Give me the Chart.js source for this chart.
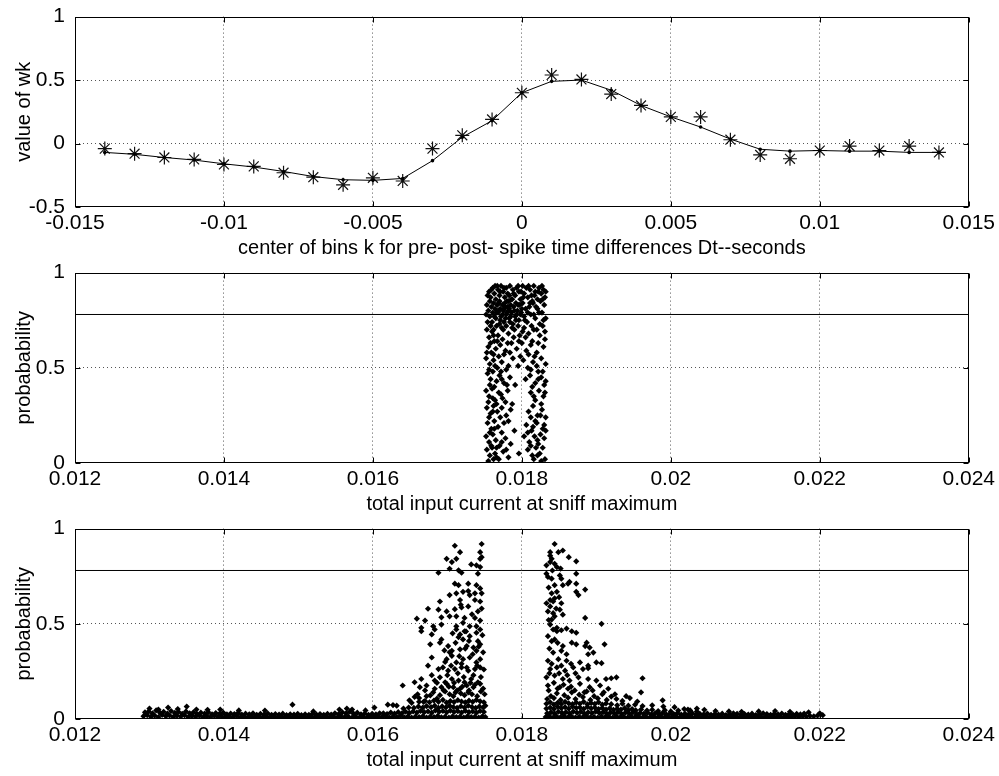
<!DOCTYPE html>
<html>
<head>
<meta charset="utf-8">
<script src="https://cdn.jsdelivr.net/npm/chart.js@4.4.1/dist/chart.umd.min.js"></script>
<style>
  body { margin: 0; background: #fff; }
  .panel { position: absolute; left: 0; width: 999px; height: 268px; }
</style>
</head>
<body>
<div class="panel" style="top:-6px"><canvas id="wkChart" width="999" height="268"></canvas></div>
<div class="panel" style="top:250px"><canvas id="probChartA" width="999" height="268"></canvas></div>
<div class="panel" style="top:506px"><canvas id="probChartB" width="999" height="268"></canvas></div>
<script>
// ---- weights wk per spike-time bin ----
const binCenters = [-0.014, -0.013, -0.012, -0.011, -0.01, -0.009, -0.008, -0.007, -0.006, -0.005,
  -0.004, -0.003, -0.002, -0.001, 0, 0.001, 0.002, 0.003, 0.004, 0.005,
  0.006, 0.007, 0.008, 0.009, 0.01, 0.011, 0.012, 0.013, 0.014];
const wkMeasured = [-0.04, -0.08, -0.11, -0.125, -0.165, -0.18, -0.23, -0.265, -0.325, -0.27,
  -0.295, -0.04, 0.065, 0.19, 0.40, 0.54, 0.505, 0.39, 0.30, 0.21,
  0.21, 0.03, -0.09, -0.12, -0.055, -0.02, -0.055, -0.02, -0.07];
const wkFit = [-0.07, -0.085, -0.11, -0.13, -0.16, -0.185, -0.22, -0.26, -0.285, -0.29,
  -0.275, -0.135, 0.05, 0.18, 0.40, 0.49, 0.50, 0.42, 0.30, 0.21,
  0.13, 0.035, -0.045, -0.06, -0.055, -0.06, -0.06, -0.07, -0.07];

const dtTicks = [-0.015, -0.01, -0.005, 0, 0.005, 0.01, 0.015];
const wkTicks = [-0.5, 0, 0.5, 1];
const currentTicks = [0.012, 0.014, 0.016, 0.018, 0.02, 0.022, 0.024];
const probTicks = [0, 0.5, 1];
const cutoffLevel = 0.78;

// ---- probability vs. input current, first run ----
const runAPts = [
  [0.01756,0.90],[0.01758,0.87],[0.01761,0.92],[0.01763,0.89],[0.01765,0.86],[0.01768,0.91],[0.01770,0.88],
  [0.01772,0.93],[0.01775,0.90],[0.01777,0.87],[0.01779,0.92],[0.01781,0.89],[0.01784,0.93],[0.01786,0.86],
  [0.01788,0.91],[0.01791,0.88],[0.01793,0.92],[0.01796,0.90],[0.01798,0.86],[0.01801,0.93],[0.01803,0.89],
  [0.01806,0.92],[0.01808,0.87],[0.01811,0.91],[0.01813,0.88],[0.01816,0.93],[0.01818,0.90],[0.01821,0.86],
  [0.01823,0.92],[0.01826,0.89],[0.01829,0.91],[0.01831,0.87],[0.01757,0.85],[0.01767,0.93],[0.01782,0.85],
  [0.01799,0.90],[0.01814,0.85],[0.01827,0.93],
  [0.01754,0.88],[0.01759,0.91],[0.01764,0.93],[0.01771,0.90],[0.01776,0.92],[0.01783,0.88],[0.01789,0.89],
  [0.01795,0.93],[0.01802,0.87],[0.01809,0.93],[0.01817,0.88],[0.01822,0.90],[0.01828,0.86],[0.01832,0.90],
  [0.01811,0.84],[0.01819,0.82],[0.01825,0.85],[0.01808,0.79],[0.01816,0.78],[0.01823,0.79],[0.01829,0.75],
  [0.01804,0.75],[0.01752,0.78],[0.01754,0.74],[0.01758,0.72],[0.01762,0.70],[0.01770,0.73],[0.01779,0.72],
  [0.01787,0.71],[0.01795,0.72],[0.01801,0.69],[0.01813,0.72],[0.01820,0.70],[0.01828,0.72],
  [0.01753,0.83],[0.01755,0.80],[0.01757,0.77],[0.01759,0.82],[0.01761,0.79],[0.01762,0.84],[0.01764,0.81],
  [0.01765,0.76],[0.01767,0.83],[0.01768,0.79],[0.01770,0.85],[0.01771,0.81],[0.01772,0.77],[0.01774,0.83],
  [0.01775,0.80],[0.01776,0.74],[0.01778,0.82],[0.01779,0.78],[0.01780,0.85],[0.01782,0.80],[0.01783,0.76],
  [0.01785,0.83],[0.01786,0.79],[0.01788,0.73],[0.01789,0.82],[0.01791,0.77],[0.01792,0.84],[0.01794,0.80],
  [0.01796,0.75],[0.01797,0.83],[0.01799,0.79],[0.01801,0.84],[0.01803,0.77],[0.01805,0.81],[0.01807,0.74],
  [0.01810,0.82],[0.01812,0.78],[0.01815,0.84],[0.01818,0.76],[0.01821,0.81],[0.01824,0.73],[0.01827,0.79],
  [0.01830,0.83],[0.01832,0.76],[0.01766,0.72],[0.01773,0.71],[0.01784,0.74],[0.01760,0.74],[0.01777,0.84],
  [0.01787,0.86],[0.01769,0.80],[0.01781,0.82],[0.01793,0.78],[0.01800,0.81],[0.01774,0.78],[0.01763,0.77],
  [0.01766,0.79],[0.01771,0.75],[0.01778,0.76],[0.01783,0.81],[0.01790,0.80],[0.01795,0.83],[0.01769,0.84],
  [0.01776,0.81],[0.01780,0.79],[0.01785,0.77],[0.01792,0.75],[0.01798,0.78],
  [0.01753,0.70],[0.01756,0.66],[0.01760,0.69],[0.01763,0.64],[0.01768,0.67],[0.01775,0.70],[0.01782,0.68],
  [0.01790,0.70],[0.01797,0.67],[0.01803,0.71],[0.01809,0.68],[0.01816,0.70],[0.01824,0.67],[0.01831,0.69],
  [0.01758,0.63],[0.01762,0.67],[0.01767,0.64],[0.01774,0.65],[0.01781,0.63],[0.01789,0.66],[0.01796,0.64],
  [0.01805,0.66],[0.01814,0.64],[0.01822,0.63],[0.01831,0.65],
  [0.01755,0.61],[0.01759,0.58],[0.01765,0.60],[0.01771,0.62],[0.01778,0.59],[0.01786,0.63],[0.01793,0.60],
  [0.01800,0.63],[0.01806,0.59],[0.01812,0.62],[0.01820,0.58],[0.01829,0.61],
  [0.01753,0.58],[0.01762,0.57],[0.01769,0.56],[0.01776,0.57],[0.01784,0.58],[0.01798,0.56],[0.01809,0.57],
  [0.01817,0.56],[0.01826,0.55],
  [0.01752,0.55],[0.01757,0.52],[0.01762,0.54],[0.01767,0.50],[0.01773,0.53],[0.01779,0.49],[0.01788,0.55],
  [0.01795,0.51],[0.01802,0.54],[0.01808,0.50],[0.01815,0.53],[0.01822,0.48],[0.01832,0.52],
  [0.01756,0.49],[0.01764,0.51],[0.01772,0.48],[0.01782,0.51],[0.01812,0.49],[0.01820,0.51],[0.01828,0.48],
  [0.01754,0.47],[0.01758,0.44],[0.01761,0.48],[0.01766,0.43],[0.01770,0.46],[0.01776,0.42],[0.01784,0.45],
  [0.01791,0.41],[0.01805,0.44],[0.01811,0.46],[0.01818,0.42],[0.01826,0.45],[0.01830,0.41],
  [0.01757,0.41],[0.01763,0.40],[0.01773,0.44],[0.01780,0.41],[0.01814,0.40],[0.01822,0.44],[0.01832,0.43],
  [0.01752,0.38],[0.01756,0.35],[0.01760,0.39],[0.01764,0.33],[0.01769,0.37],[0.01774,0.34],[0.01781,0.38],
  [0.01787,0.31],[0.01812,0.37],[0.01818,0.33],[0.01823,0.38],[0.01829,0.35],
  [0.01755,0.32],[0.01761,0.34],[0.01766,0.31],[0.01772,0.36],[0.01778,0.32],[0.01816,0.35],[0.01826,0.31],
  [0.01831,0.37],
  [0.01753,0.29],[0.01758,0.26],[0.01762,0.30],[0.01767,0.27],[0.01773,0.29],[0.01779,0.25],[0.01785,0.28],
  [0.01809,0.27],[0.01815,0.30],[0.01821,0.25],[0.01827,0.28],[0.01832,0.24],
  [0.01756,0.24],[0.01761,0.27],[0.01771,0.24],[0.01782,0.22],[0.01812,0.24],[0.01818,0.22],[0.01825,0.25],
  [0.01830,0.20],
  [0.01754,0.21],[0.01759,0.18],[0.01763,0.22],[0.01768,0.19],[0.01776,0.21],[0.01790,0.17],[0.01806,0.20],
  [0.01813,0.17],[0.01820,0.21],[0.01828,0.18],
  [0.01757,0.16],[0.01763,0.18],[0.01773,0.16],[0.01808,0.16],[0.01815,0.19],[0.01825,0.15],[0.01832,0.17],
  [0.01752,0.14],[0.01756,0.11],[0.01761,0.15],[0.01765,0.12],[0.01770,0.09],[0.01778,0.13],[0.01785,0.10],
  [0.01803,0.14],[0.01810,0.11],[0.01817,0.14],[0.01822,0.10],[0.01830,0.13],
  [0.01759,0.09],[0.01766,0.08],[0.01773,0.11],[0.01812,0.09],[0.01821,0.12],[0.01828,0.08],
  [0.01753,0.07],[0.01757,0.04],[0.01760,0.08],[0.01764,0.05],[0.01769,0.02],[0.01775,0.06],[0.01782,0.03],
  [0.01796,0.05],[0.01808,0.07],[0.01814,0.04],[0.01819,0.08],[0.01824,0.05],[0.01831,0.02],[0.01755,0.01],
  [0.01762,0.02],[0.01826,0.01],[0.01766,0.03],[0.01779,0.07],[0.01816,0.02],[0.01821,0.04]
];

// ---- probability vs. input current, second run ----
// flat low tail on the left
const runBTailPts = [
  [0.01292,0.015],[0.01297,0.02],[0.01302,0.012],[0.01307,0.018],[0.01312,0.01],[0.01317,0.022],[0.01322,0.014],
  [0.01327,0.019],[0.01332,0.011],[0.01337,0.017],[0.01342,0.013],[0.01347,0.02],[0.01352,0.01],[0.01357,0.016],
  [0.01362,0.012],[0.01367,0.018],[0.01372,0.009],[0.01377,0.015],[0.01382,0.011],[0.01387,0.017],[0.01392,0.01],
  [0.01397,0.014],[0.01402,0.008],[0.01407,0.013],[0.01412,0.01],[0.01417,0.016],[0.01422,0.009],[0.01427,0.012],
  [0.01432,0.008],[0.01437,0.014],[0.01442,0.01],[0.01447,0.013],[0.01452,0.007],[0.01457,0.012],[0.01462,0.009],
  [0.01467,0.014],[0.01472,0.008],[0.01477,0.011],[0.01482,0.009],[0.01487,0.013],[0.01492,0.008],[0.01497,0.012],
  [0.01502,0.009],[0.01507,0.011],[0.01512,0.007],[0.01517,0.012],[0.01522,0.009],[0.01527,0.013],[0.01532,0.008],
  [0.01537,0.011],[0.01542,0.009],[0.01547,0.012],[0.01552,0.008],[0.01557,0.014],[0.01562,0.01],[0.01567,0.013],
  [0.01572,0.008],[0.01577,0.012],[0.01582,0.009],[0.01587,0.011],[0.01592,0.007],[0.01597,0.012],[0.01602,0.009],
  [0.01607,0.013],
  [0.01294,0.035],[0.01299,0.04],[0.01304,0.03],[0.01309,0.045],[0.01314,0.033],[0.01319,0.038],[0.01324,0.028],
  [0.01329,0.042],[0.01334,0.032],[0.01339,0.037],[0.01344,0.027],[0.01349,0.04],[0.01354,0.03],[0.01359,0.035],
  [0.01364,0.026],[0.01369,0.033],[0.01374,0.029],[0.01379,0.036],[0.01384,0.025],[0.01389,0.031],[0.01394,0.027],
  [0.01399,0.034],[0.01404,0.024],[0.01409,0.029],[0.01414,0.026],[0.01419,0.032],[0.01424,0.023],[0.01429,0.028],
  [0.01434,0.025],[0.01439,0.03],[0.01444,0.022],[0.01449,0.027],[0.01454,0.024],[0.01459,0.029],[0.01464,0.022],
  [0.01469,0.026],[0.01474,0.023],[0.01479,0.028],[0.01484,0.021],[0.01489,0.025],[0.01494,0.023],[0.01499,0.027],
  [0.01504,0.021],[0.01509,0.025],[0.01514,0.022],[0.01519,0.028],[0.01524,0.024],[0.01529,0.026],[0.01534,0.022],
  [0.01539,0.027],[0.01544,0.023],[0.01549,0.03],[0.01554,0.026],[0.01559,0.035],[0.01564,0.03],[0.01569,0.038],
  [0.01574,0.028],[0.01579,0.033],[0.01584,0.025],[0.01589,0.029],[0.01594,0.022],[0.01599,0.027],[0.01604,0.024],
  [0.01609,0.03],
  [0.01300,0.055],[0.01312,0.05],[0.01325,0.06],[0.01338,0.052],[0.01350,0.065],[0.01363,0.05],[0.01378,0.048],
  [0.01395,0.05],[0.01420,0.045],[0.01455,0.044],[0.01492,0.075],[0.01520,0.04],[0.01555,0.05],[0.01565,0.055],
  [0.01572,0.05],[0.01590,0.045],[0.01602,0.06],[0.01620,0.075],[0.01632,0.07]
];

// rising cluster just below 0.0175
const runBLeftPts = [
  [0.01612,0.01],[0.01617,0.015],[0.01622,0.008],[0.01627,0.013],[0.01632,0.01],[0.01637,0.016],[0.01642,0.009],
  [0.01647,0.014],[0.01652,0.007],[0.01657,0.012],[0.01662,0.01],[0.01667,0.015],[0.01672,0.008],[0.01677,0.013],
  [0.01682,0.01],[0.01687,0.016],[0.01692,0.009],[0.01697,0.012],[0.01702,0.007],[0.01707,0.014],[0.01712,0.01],
  [0.01717,0.013],[0.01722,0.008],[0.01727,0.015],[0.01732,0.01],[0.01737,0.012],[0.01742,0.008],[0.01747,0.014],
  [0.01751,0.01],
  [0.01614,0.03],[0.01619,0.026],[0.01624,0.034],[0.01629,0.028],[0.01634,0.036],[0.01639,0.03],[0.01644,0.038],
  [0.01649,0.032],[0.01654,0.04],[0.01659,0.034],[0.01664,0.042],[0.01669,0.036],[0.01674,0.04],[0.01679,0.033],
  [0.01684,0.045],[0.01689,0.038],[0.01694,0.042],[0.01699,0.035],[0.01704,0.044],[0.01709,0.037],[0.01714,0.041],
  [0.01719,0.034],[0.01724,0.043],[0.01729,0.036],[0.01734,0.04],[0.01739,0.033],[0.01744,0.042],[0.01749,0.037],
  [0.01641,0.055],[0.01648,0.06],[0.01655,0.058],[0.01661,0.065],[0.01667,0.06],[0.01672,0.068],[0.01678,0.062],
  [0.01683,0.07],[0.01688,0.058],[0.01693,0.066],[0.01698,0.061],[0.01703,0.069],[0.01708,0.063],[0.01713,0.058],
  [0.01718,0.067],[0.01723,0.06],[0.01728,0.07],[0.01733,0.063],[0.01738,0.058],[0.01743,0.066],[0.01748,0.061],
  [0.01751,0.07],
  [0.01652,0.085],[0.01662,0.09],[0.01670,0.095],[0.01676,0.088],[0.01682,0.097],[0.01688,0.09],[0.01694,0.1],
  [0.01699,0.086],[0.01704,0.094],[0.01709,0.089],[0.01714,0.099],[0.01719,0.092],[0.01724,0.087],[0.01729,0.096],
  [0.01734,0.09],[0.01739,0.1],[0.01744,0.093],[0.01749,0.088],
  [0.01660,0.13],[0.01672,0.12],[0.01681,0.14],[0.01690,0.125],[0.01697,0.145],[0.01703,0.13],[0.01708,0.12],
  [0.01713,0.15],[0.01718,0.135],[0.01723,0.125],[0.01728,0.14],[0.01733,0.13],[0.01740,0.12],[0.01745,0.145],
  [0.01750,0.13],
  [0.01627,0.073],[0.01649,0.098],[0.01656,0.116],[0.01668,0.09],[0.01677,0.124],[0.01686,0.107],
  [0.01695,0.15],[0.01702,0.17],[0.01711,0.14],[0.01720,0.17],[0.01729,0.15],[0.01737,0.18],[0.01748,0.16],
  [0.01670,0.15],[0.01662,0.11],[0.01686,0.19],
  [0.01640,0.176],[0.01656,0.193],[0.01663,0.167],[0.01672,0.176],[0.01683,0.159],[0.01692,0.167],[0.01699,0.185],
  [0.01708,0.167],[0.01717,0.159],[0.01726,0.176],[0.01735,0.167],[0.01744,0.185],
  [0.01665,0.21],[0.01683,0.202],[0.01690,0.219],[0.01697,0.193],[0.01706,0.21],[0.01715,0.202],[0.01723,0.193],
  [0.01732,0.21],[0.01741,0.193],
  [0.01700,0.23],[0.01705,0.28],[0.01709,0.19],[0.01714,0.24],[0.01719,0.29],[0.01722,0.22],[0.01726,0.27],
  [0.01731,0.19],[0.01735,0.23],[0.01740,0.28],[0.01745,0.22],[0.01749,0.26],[0.01679,0.23],
  [0.01674,0.28],[0.01688,0.262],[0.01694,0.271],[0.01701,0.254],[0.01710,0.262],[0.01719,0.271],[0.01728,0.254],
  [0.01737,0.262],[0.01744,0.271],[0.01697,0.30],
  [0.01679,0.323],[0.01699,0.314],[0.01706,0.332],[0.01712,0.297],[0.01721,0.314],[0.01730,0.323],[0.01739,0.297],
  [0.01744,0.314],
  [0.01703,0.35],[0.01711,0.40],[0.01716,0.33],[0.01724,0.37],[0.01729,0.41],[0.01734,0.34],[0.01742,0.38],
  [0.01748,0.35],[0.01696,0.36],
  [0.01677,0.392],[0.01701,0.383],[0.01706,0.358],[0.01717,0.366],[0.01726,0.383],[0.01735,0.375],[0.01744,0.392],
  [0.01739,0.358],
  [0.01665,0.461],[0.01679,0.444],[0.01683,0.47],[0.01692,0.418],[0.01690,0.401],[0.01712,0.47],[0.01717,0.444],
  [0.01721,0.418],[0.01723,0.461],[0.01730,0.435],[0.01739,0.453],[0.01744,0.47],[0.01741,0.409],
  [0.01715,0.43],[0.01725,0.46],[0.01747,0.44],[0.01707,0.45],
  [0.01665,0.479],[0.01681,0.487],[0.01692,0.496],[0.01712,0.487],[0.01721,0.505],[0.01730,0.487],[0.01739,0.487],
  [0.01659,0.527],[0.01670,0.517],[0.01692,0.534],[0.01703,0.539],[0.01712,0.539],[0.01723,0.531],[0.01737,0.531],
  [0.01744,0.517],[0.01733,0.55],
  [0.01674,0.579],[0.01688,0.574],[0.01699,0.565],[0.01710,0.577],[0.01719,0.586],[0.01728,0.591],[0.01741,0.565],
  [0.01746,0.58],[0.01718,0.60],
  [0.01690,0.617],[0.01717,0.625],[0.01737,0.625],[0.01744,0.617],
  [0.01703,0.651],[0.01712,0.66],[0.01721,0.668],[0.01728,0.672],[0.01730,0.651],[0.01737,0.66],[0.01746,0.66],
  [0.01710,0.711],[0.01715,0.703],[0.01728,0.711],[0.01739,0.703],[0.01744,0.686],
  [0.01688,0.768],[0.01703,0.789],[0.01715,0.781],[0.01719,0.768],[0.01744,0.798],[0.01741,0.763],
  [0.01732,0.812],[0.01739,0.807],[0.01706,0.824],[0.01699,0.841],[0.01712,0.841],[0.01744,0.841],[0.01746,0.85],
  [0.01717,0.876],[0.01744,0.876],[0.01710,0.91],[0.01746,0.919]
];

// falling cluster just above 0.0183, with its long tail
const runBRightPts = [
  [0.01832,0.01],[0.01837,0.014],[0.01842,0.008],[0.01847,0.012],[0.01852,0.01],[0.01857,0.015],[0.01862,0.009],
  [0.01867,0.013],[0.01872,0.008],[0.01877,0.012],[0.01882,0.01],[0.01887,0.014],[0.01892,0.009],[0.01897,0.011],
  [0.01902,0.008],[0.01907,0.013],[0.01912,0.01],[0.01917,0.012],[0.01922,0.008],[0.01927,0.014],[0.01932,0.009],
  [0.01937,0.011],[0.01942,0.008],[0.01947,0.013],[0.01952,0.01],[0.01957,0.012],[0.01962,0.008],[0.01967,0.011],
  [0.01972,0.009],[0.01977,0.013],[0.01982,0.008],[0.01987,0.012],[0.01992,0.01],[0.01997,0.011],[0.02002,0.008],
  [0.02007,0.012],[0.02012,0.009],[0.02017,0.013],[0.02022,0.01],[0.02027,0.012],[0.02032,0.008],[0.02037,0.011],
  [0.02042,0.009],[0.02047,0.013],[0.02052,0.01],[0.02057,0.012],[0.02062,0.008],[0.02067,0.011],[0.02072,0.009],
  [0.02077,0.012],[0.02082,0.01],[0.02087,0.013],[0.02092,0.008],[0.02097,0.011],[0.02102,0.009],[0.02107,0.012],
  [0.02112,0.01],[0.02117,0.013],[0.02122,0.009],[0.02127,0.011],[0.02132,0.008],[0.02137,0.012],[0.02142,0.01],
  [0.02147,0.013],[0.02152,0.009],[0.02157,0.011],[0.02162,0.01],[0.02167,0.014],[0.02172,0.012],[0.02177,0.015],
  [0.02182,0.013],[0.02187,0.016],[0.02192,0.014],[0.02197,0.018],[0.02204,0.02],
  [0.01834,0.03],[0.01839,0.035],[0.01844,0.028],[0.01849,0.038],[0.01854,0.032],[0.01859,0.036],[0.01864,0.03],
  [0.01869,0.039],[0.01874,0.033],[0.01879,0.037],[0.01884,0.029],[0.01889,0.035],[0.01894,0.031],[0.01899,0.038],
  [0.01904,0.032],[0.01909,0.036],[0.01914,0.028],[0.01919,0.034],[0.01924,0.03],[0.01929,0.036],[0.01934,0.027],
  [0.01939,0.033],[0.01944,0.029],[0.01949,0.035],[0.01954,0.026],[0.01959,0.032],[0.01964,0.028],[0.01969,0.033],
  [0.01974,0.025],[0.01979,0.03],[0.01984,0.027],[0.01989,0.032],[0.01994,0.024],[0.01999,0.029],[0.02004,0.026],
  [0.02009,0.031],[0.02014,0.023],[0.02019,0.028],[0.02024,0.025],[0.02029,0.03],[0.02034,0.022],[0.02039,0.027],
  [0.02044,0.024],[0.02049,0.029],[0.02054,0.022],[0.02059,0.026],[0.02064,0.023],[0.02069,0.028],[0.02074,0.021],
  [0.02079,0.025],[0.02084,0.03],[0.02089,0.027],[0.02094,0.022],[0.02099,0.026],[0.02104,0.023],[0.02109,0.028],
  [0.02114,0.021],[0.02119,0.025],[0.02124,0.03],[0.02129,0.026],[0.02134,0.022],[0.02139,0.027],[0.02144,0.024],
  [0.02149,0.029],[0.02154,0.022],[0.02159,0.026],[0.02164,0.023],[0.02169,0.027],[0.02174,0.024],[0.02179,0.029],
  [0.01833,0.055],[0.01838,0.06],[0.01843,0.052],[0.01848,0.064],[0.01853,0.057],[0.01858,0.062],[0.01863,0.054],
  [0.01868,0.065],[0.01873,0.058],[0.01878,0.061],[0.01883,0.053],[0.01888,0.063],[0.01893,0.056],[0.01898,0.06],
  [0.01903,0.052],[0.01908,0.058],[0.01913,0.05],[0.01918,0.056],[0.01923,0.048],[0.01928,0.054],[0.01933,0.05],
  [0.01938,0.057],[0.01943,0.047],[0.01948,0.052],[0.01953,0.045],[0.01960,0.05],[0.01968,0.044],[0.01975,0.048],
  [0.01983,0.042],[0.01992,0.046],[0.02000,0.04],[0.02010,0.044],[0.02018,0.052],[0.02026,0.045],[0.02035,0.04],
  [0.02045,0.048],[0.02060,0.042],[0.02078,0.04],[0.02095,0.038],[0.02118,0.04],[0.02140,0.042],[0.02160,0.038],
  [0.02185,0.035],[0.02200,0.03],
  [0.01833,0.08],[0.01838,0.088],[0.01843,0.076],[0.01848,0.085],[0.01853,0.079],[0.01858,0.09],[0.01863,0.082],
  [0.01868,0.078],[0.01873,0.087],[0.01878,0.08],[0.01883,0.09],[0.01888,0.077],[0.01893,0.084],[0.01898,0.079],
  [0.01903,0.088],[0.01908,0.075],[0.01913,0.082],[0.01920,0.078],[0.01928,0.072],[0.01935,0.08],[0.01943,0.07],
  [0.01952,0.075],[0.01962,0.068],[0.01975,0.072],[0.01990,0.065],[0.02005,0.062],
  [0.01834,0.105],[0.01839,0.12],[0.01843,0.11],[0.01847,0.135],[0.01852,0.1],[0.01857,0.125],[0.01862,0.112],
  [0.01867,0.14],[0.01872,0.105],[0.01877,0.128],[0.01882,0.115],[0.01887,0.145],[0.01892,0.1],[0.01897,0.12],
  [0.01902,0.108],[0.01908,0.13],[0.01914,0.1],[0.01920,0.118],[0.01927,0.105],[0.01935,0.095],[0.01945,0.11],
  [0.01955,0.092],[0.01989,0.098],[0.02023,0.05],[0.02035,0.055],
  [0.01836,0.15],[0.01843,0.19],[0.01848,0.16],[0.01856,0.18],[0.01866,0.17],[0.01871,0.15],[0.01884,0.14],
  [0.01895,0.15],[0.01910,0.14],[0.01925,0.13],[0.01940,0.12],
  [0.01835,0.176],[0.01851,0.167],[0.01862,0.159],[0.01878,0.185],[0.01891,0.167],[0.01905,0.176],[0.01916,0.159],
  [0.01960,0.14],
  [0.01833,0.219],[0.01844,0.228],[0.01855,0.21],[0.01864,0.202],[0.01876,0.219],[0.01889,0.21],[0.01900,0.202],
  [0.01913,0.21],[0.01920,0.214],[0.01927,0.219],[0.01962,0.214],
  [0.01837,0.24],[0.01850,0.24],[0.01861,0.23],[0.01872,0.24],
  [0.01838,0.262],[0.01847,0.271],[0.01858,0.254],[0.01869,0.271],[0.01882,0.262],[0.01889,0.267],
  [0.01840,0.29],[0.01853,0.28],[0.01866,0.29],
  [0.01835,0.306],[0.01849,0.314],[0.01860,0.306],[0.01878,0.297],[0.01889,0.28],[0.01900,0.297],[0.01907,0.293],
  [0.01842,0.349],[0.01853,0.358],[0.01889,0.34],[0.01896,0.349],[0.01837,0.37],[0.01860,0.34],
  [0.01867,0.401],[0.01873,0.392],[0.01855,0.383],[0.01887,0.401],[0.01885,0.383],[0.01911,0.392],[0.01891,0.375],
  [0.01835,0.435],[0.01840,0.409],[0.01844,0.418],[0.01848,0.40],
  [0.01842,0.47],[0.01847,0.461],[0.01853,0.466],[0.01860,0.475],[0.01867,0.461],[0.01873,0.453],
  [0.01838,0.496],[0.01847,0.479],[0.01885,0.531],[0.01907,0.50],[0.01836,0.52],
  [0.01833,0.608],[0.01838,0.591],[0.01835,0.565],[0.01842,0.556],[0.01851,0.574],[0.01853,0.608],[0.01855,0.548],
  [0.01844,0.539],[0.01840,0.522],[0.01846,0.58],
  [0.01840,0.66],[0.01847,0.668],[0.01844,0.634],[0.01842,0.617],[0.01838,0.625],[0.01850,0.64],
  [0.01885,0.68],[0.01873,0.668],[0.01876,0.651],[0.01836,0.69],
  [0.01833,0.763],[0.01835,0.746],[0.01840,0.737],[0.01851,0.754],[0.01853,0.737],[0.01844,0.703],[0.01855,0.703],
  [0.01864,0.72],[0.01862,0.711],[0.01873,0.711],[0.01841,0.78],[0.01852,0.79],
  [0.01844,0.919],[0.01849,0.876],[0.01855,0.885],[0.01863,0.85],[0.01838,0.876],[0.01838,0.858],[0.01840,0.841],
  [0.01838,0.824],[0.01833,0.807],[0.01844,0.815],[0.01847,0.798],[0.01873,0.828],[0.01873,0.763]
];

Chart.defaults.font.family = "'Liberation Sans', Arial, sans-serif";
Chart.defaults.font.size = 20;
Chart.defaults.color = '#000';

const GRID = '#555';
const toXY = pts => pts.map(([x, y]) => ({ x, y }));

function axis(min, max, tickValues, title, horizontal) {
  const last = tickValues.length - 1;
  return {
    type: 'linear',
    min: min,
    max: max,
    afterBuildTicks: s => { s.ticks = tickValues.map(v => ({ value: v })); },
    afterFit: s => {
      if (horizontal) s.height = 55;
      else s.width = 75;
    },
    ticks: {
      autoSkip: false,
      maxRotation: 0,
      font: { size: 21 },
      padding: horizontal ? 4 : 10,
      callback: v => String(v)
    },
    grid: {
      drawTicks: false,
      lineWidth: 1,
      color: c => (c.index === 0 || c.index === last) ? 'rgba(0,0,0,0)' : GRID
    },
    border: { display: false, dash: [1, 3] },
    title: {
      display: true,
      text: title,
      padding: horizontal ? { top: 0, bottom: 2 } : { top: 12, bottom: 0 }
    }
  };
}

// box around the axes with small inward tick marks, like the classic plot style
const boxFrame = {
  id: 'boxFrame',
  afterDraw(chart) {
    const { ctx, chartArea: a, scales } = chart;
    const L = Math.round(a.left) + 0.5, R = Math.round(a.right) - 0.5;
    const T = Math.round(a.top) + 0.5, B = Math.round(a.bottom) - 0.5;
    ctx.save();
    ctx.strokeStyle = '#000';
    ctx.lineWidth = 1;
    ctx.strokeRect(L, T, R - L, B - T);
    ctx.beginPath();
    scales.x.ticks.forEach(t => {
      const px = Math.round(scales.x.getPixelForValue(t.value)) + 0.5;
      ctx.moveTo(px, B); ctx.lineTo(px, B - 5);
      ctx.moveTo(px, T); ctx.lineTo(px, T + 5);
    });
    scales.y.ticks.forEach(t => {
      const py = Math.round(scales.y.getPixelForValue(t.value)) + 0.5;
      ctx.moveTo(L, py); ctx.lineTo(L + 5, py);
      ctx.moveTo(R, py); ctx.lineTo(R - 5, py);
    });
    ctx.stroke();
    ctx.restore();
  }
};

const baseOptions = (xAxis, yAxis) => ({
  responsive: false,
  animation: false,
  devicePixelRatio: 1,
  layout: { padding: { top: 8, right: 30, left: 0, bottom: 0 } },
  plugins: { legend: { display: false }, tooltip: { enabled: false } },
  scales: { x: xAxis, y: yAxis }
});

const scatterSet = pts => ({
  data: toXY(pts),
  pointStyle: 'rectRot',
  pointRadius: 3.1,
  backgroundColor: '#000',
  borderWidth: 0,
  showLine: false
});

const cutoffSet = () => ({
  data: [{ x: currentTicks[0], y: cutoffLevel }, { x: currentTicks[currentTicks.length - 1], y: cutoffLevel }],
  showLine: true,
  borderColor: '#000',
  borderWidth: 1,
  pointRadius: 0
});

// top: wk per bin
new Chart(document.getElementById('wkChart'), {
  type: 'scatter',
  data: {
    datasets: [
      {
        data: binCenters.map((x, i) => ({ x, y: wkFit[i] })),
        showLine: true,
        borderColor: '#000',
        borderWidth: 1,
        pointStyle: 'circle',
        pointRadius: 1.8,
        backgroundColor: '#000',
        pointBorderWidth: 0
      },
      {
        data: binCenters.map((x, i) => ({ x, y: wkMeasured[i] })),
        showLine: false,
        pointStyle: 'star',
        pointRadius: 7,
        borderColor: '#111',
        pointBorderWidth: 1.2,
        backgroundColor: 'rgba(0,0,0,0)'
      }
    ]
  },
  options: baseOptions(
    axis(-0.015, 0.015, dtTicks, 'center of bins k for pre- post- spike time differences Dt--seconds', true),
    axis(-0.5, 1, wkTicks, 'value of wk', false)
  ),
  plugins: [boxFrame]
});

// middle
new Chart(document.getElementById('probChartA'), {
  type: 'scatter',
  data: { datasets: [cutoffSet(), scatterSet(runAPts)] },
  options: baseOptions(
    axis(0.012, 0.024, currentTicks, 'total input current at sniff maximum', true),
    axis(0, 1, probTicks, 'probabability', false)
  ),
  plugins: [boxFrame]
});

// bottom
new Chart(document.getElementById('probChartB'), {
  type: 'scatter',
  data: {
    datasets: [
      cutoffSet(),
      scatterSet(runBTailPts),
      scatterSet(runBLeftPts),
      scatterSet(runBRightPts)
    ]
  },
  options: baseOptions(
    axis(0.012, 0.024, currentTicks, 'total input current at sniff maximum', true),
    axis(0, 1, probTicks, 'probabability', false)
  ),
  plugins: [boxFrame]
});
</script>
</body>
</html>
